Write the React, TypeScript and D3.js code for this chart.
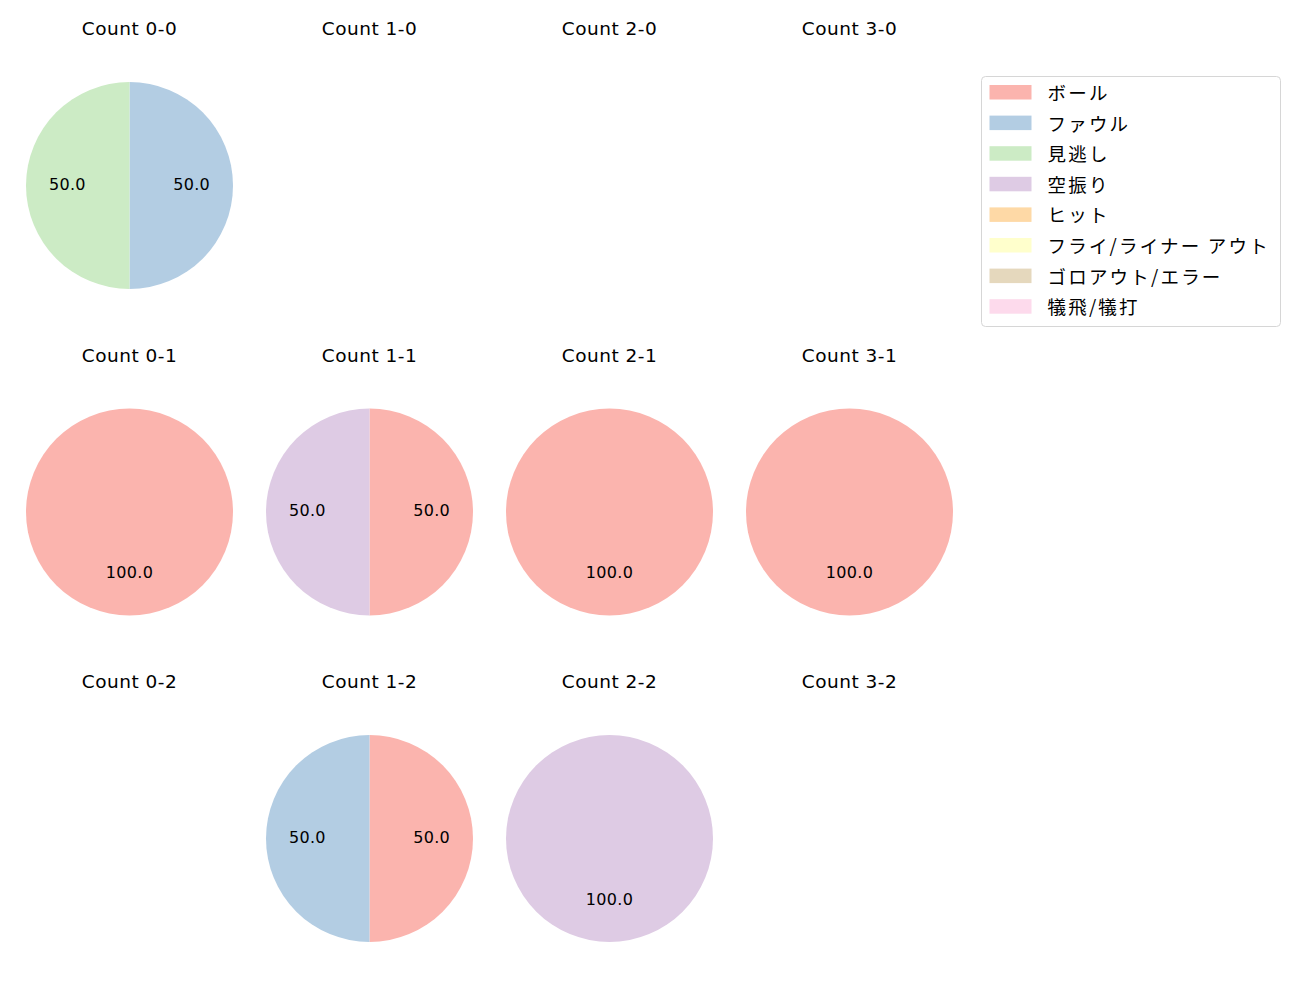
import React from 'react';
import * as d3 from 'd3';

// result categories (legend order) and their Pastel1 colours
const categories = ['ボール', 'ファウル', '見逃し', '空振り', 'ヒット', 'フライ/ライナー アウト', 'ゴロアウト/エラー', '犠飛/犠打'];
const colors = ['#fbb4ae', '#b3cde3', '#ccebc5', '#decbe4', '#fed9a6', '#ffffcc', '#e5d8bd', '#fddaec'];

// counts laid out row by row: strikes 0..2 down, balls 0..3 across
const balls = [0, 1, 2, 3];
const strikes = [0, 1, 2];

// share of each category per count (empty = no pie)
const count00 = [0, 50, 50, 0, 0, 0, 0, 0];
const count10: number[] = [];
const count20: number[] = [];
const count30: number[] = [];
const count01 = [100, 0, 0, 0, 0, 0, 0, 0];
const count11 = [50, 0, 0, 50, 0, 0, 0, 0];
const count21 = [100, 0, 0, 0, 0, 0, 0, 0];
const count31 = [100, 0, 0, 0, 0, 0, 0, 0];
const count02: number[] = [];
const count12 = [50, 50, 0, 0, 0, 0, 0, 0];
const count22 = [0, 0, 0, 100, 0, 0, 0, 0];
const count32: number[] = [];

const grid = [
  [count00, count10, count20, count30],
  [count01, count11, count21, count31],
  [count02, count12, count22, count32],
];

const W = 1300;
const H = 1000;
const latin = "'DejaVu Sans', sans-serif";
const cjk = "'Noto Sans CJK JP', 'DejaVu Sans', sans-serif";

type Slice = { v: number; i: number };

function Pie({ values, cx, cy, r }: { values: number[]; cx: number; cy: number; r: number }) {
  if (!values.length) return null;
  const data = values.map((v, i) => ({ v, i })).filter(d => d.v > 0);
  // clockwise from 12 o'clock, like matplotlib with startangle=90, counterclock=False
  const pie = d3.pie<Slice>()
    .sort(null)
    .value(d => d.v)
    .startAngle(0)
    .endAngle(2 * Math.PI);
  const arcs = pie(data);
  const arc = d3.arc<d3.PieArcDatum<Slice>>().innerRadius(0).outerRadius(r);
  const labelArc = d3.arc<d3.PieArcDatum<Slice>>().innerRadius(r * 0.6).outerRadius(r * 0.6);
  return (
    <g transform={`translate(${cx},${cy})`}>
      {arcs.map(a => (
        <path key={a.data.i} d={arc(a) || ''} fill={colors[a.data.i]} />
      ))}
      {arcs.map(a => {
        // full circle: label goes at the bottom
        const [lx, ly] = a.endAngle - a.startAngle >= 2 * Math.PI - 1e-6 ? [0, r * 0.6] : labelArc.centroid(a);
        return (
          <text key={'t' + a.data.i} x={lx} y={ly - 1.5} textAnchor="middle" dominantBaseline="central"
            fontSize={16} letterSpacing={0.3} fontFamily={latin} fill="#000">
            {a.data.v.toFixed(1)}
          </text>
        );
      })}
    </g>
  );
}

export default function App() {
  const x = d3.scaleLinear().domain([0, 3]).range([129.5, 849.5]);
  const y = d3.scaleLinear().domain([0, 2]).range([185.5, 838.5]);
  const r = 103.5;
  const legendX = 981.5;
  const legendY = 76.5;
  const rowH = 30.6;

  return (
    <svg width={W} height={H} style={{ position: 'absolute', left: 0, top: 0 }}>
      <rect width={W} height={H} fill="#fff" />
      {strikes.map(s =>
        balls.map(b => (
          <g key={`${b}-${s}`}>
            <text x={x(b)} y={y(s) - 150.5} textAnchor="middle" fontSize={18.5} letterSpacing={0.5}
              fontFamily={latin} fill="#000">
              {`Count ${b}-${s}`}
            </text>
            <Pie values={grid[s][b]} cx={x(b)} cy={y(s)} r={r} />
          </g>
        ))
      )}
      <rect x={legendX} y={legendY} width={299} height={250} rx={4} fill="#fff" stroke="#d6d6d6" />
      {categories.map((c, i) => (
        <g key={c} transform={`translate(${legendX}, ${legendY + 15.5 + i * rowH})`}>
          <rect x={8} y={-7} width={42} height={14.5} fill={colors[i]} />
          <text x={66} y={0} dominantBaseline="central" fontSize={18.5} letterSpacing={2.2}
            fontFamily={cjk} fill="#000">
            {c}
          </text>
        </g>
      ))}
    </svg>
  );
}
